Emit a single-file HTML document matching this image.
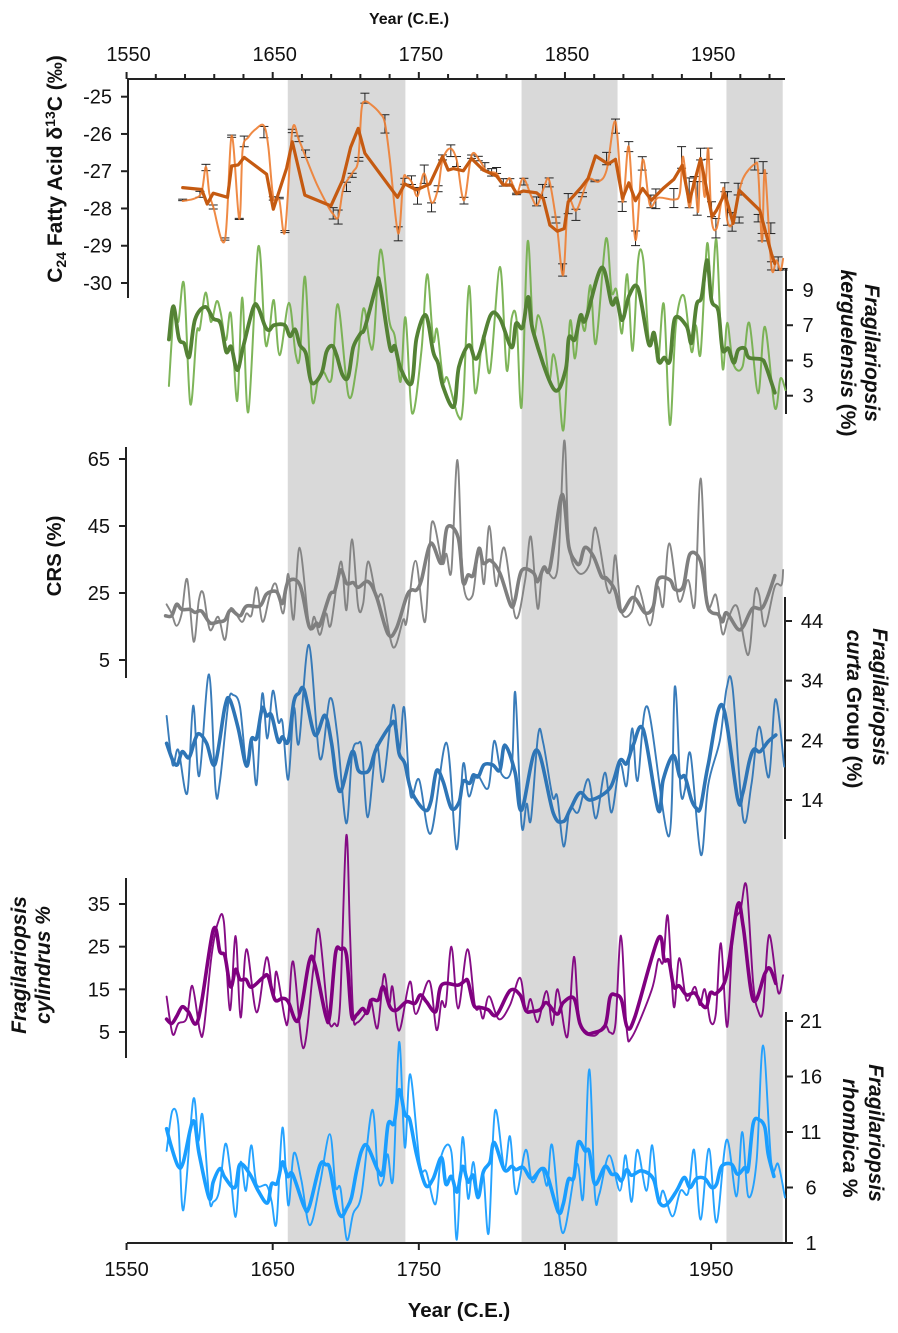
<!DOCTYPE html>
<html lang="en">
<head>
<meta charset="utf-8">
<title>Proxy records by year (C.E.)</title>
<style>
html,body{margin:0;padding:0;background:#fff;}
svg{display:block;}
text{font-family:"Liberation Sans",sans-serif;fill:#111;}
.tick{font-size:20px;}
.title{font-size:20.5px;font-weight:bold;}
.ital{font-size:21px;font-weight:bold;font-style:italic;}
#series{filter:blur(0.35px);}
</style>
</head>
<body>
<svg id="chart" xmlns="http://www.w3.org/2000/svg" width="898" height="1333" viewBox="0 0 898 1333">
  <g id="bands"></g>
  <g id="axes"></g>
  <g id="series"></g>
  <text class="title" style="font-size:16px" x="409" y="24" text-anchor="middle">Year (C.E.)</text>
  <text class="title" x="459" y="1317" text-anchor="middle">Year (C.E.)</text>
  <text class="title" style="font-size:21px" transform="translate(62 169) rotate(-90)" text-anchor="middle">C<tspan font-size="14" dy="4">24</tspan><tspan dy="-4"> Fatty Acid δ</tspan><tspan font-size="14" dy="-7">13</tspan><tspan dy="7">C (‰)</tspan></text>
  <text class="title" transform="translate(61 556) rotate(-90)" text-anchor="middle">CRS  (%)</text>
  <text class="ital" transform="translate(26 965) rotate(-90)" text-anchor="middle">Fragilariopsis</text>
  <text class="ital" transform="translate(50 965) rotate(-90)" text-anchor="middle">cylindrus %</text>
  <text class="ital" transform="translate(865 353) rotate(90)" text-anchor="middle">Fragilariopsis</text>
  <text class="ital" transform="translate(841 353) rotate(90)" text-anchor="middle">kerguelensis<tspan font-style="normal"> (%)</tspan></text>
  <text class="ital" transform="translate(873 697) rotate(90)" text-anchor="middle">Fragilariopsis</text>
  <text class="ital" transform="translate(847 709) rotate(90)" text-anchor="middle">curta<tspan font-style="normal"> Group  (%)</tspan></text>
  <text class="ital" transform="translate(869 1133) rotate(90)" text-anchor="middle">Fragilariopsis</text>
  <text class="ital" transform="translate(843 1138) rotate(90)" text-anchor="middle">rhombica<tspan font-style="normal"> %</tspan></text>
</svg>
<script>
const bandStarts = [1660.3, 1820.3, 1960.5];
const bandEnds = [1740.8, 1886, 1999];

const topYearTicks = [1550, 1570, 1590, 1610, 1630, 1650, 1670, 1690, 1710, 1730, 1750, 1770, 1790, 1810, 1830, 1850, 1870, 1890, 1910, 1930, 1950, 1970, 1990];
const yearLabels = [1550, 1650, 1750, 1850, 1950];
const c24Ticks = [-25, -26, -27, -28, -29, -30];
const kergTicks = [9, 7, 5, 3];
const crsTicks = [65, 45, 25, 5];
const curtaTicks = [44, 34, 24, 14];
const cylTicks = [35, 25, 15, 5];
const rhomTicks = [21, 16, 11, 6, 1];

const c24ThinYears = [1588.4,1596.8,1601.4,1604.3,1606.6,1609.3,1617.3,1621.9,1627.1,1629.4,1633.3,1639,1644,1647,1650.4,1654.5,1658.4,1663.4,1667.9,1672.5,1680,1688,1691.4,1694.8,1697.8,1700.5,1705.1,1708.5,1710.8,1713.1,1717.6,1723.3,1726.8,1730.2,1735.9,1739.3,1741.6,1745,1749.1,1753.7,1758.7,1763.2,1766.2,1771.3,1775.9,1780.9,1786.1,1791.8,1796.4,1803.2,1807.8,1812.3,1816.9,1821.5,1827.2,1831,1835.8,1839.2,1844.3,1848.8,1852.2,1857.9,1865.9,1872.8,1878.5,1884.6,1889.4,1893.7,1898.3,1903.1,1908.1,1913.8,1924.5,1928.6,1930.9,1935,1938.4,1941.2,1942.8,1945.7,1948,1950.3,1953.7,1957.1,1958.7,1961,1964,1967.4,1971.9,1979.9,1982.2,1984.9,1986.8,1991.3,1994.7,1997.5,1999.3];
const c24ThinValues = [-27.8,-27.73,-27.55,-26.88,-27.59,-27.95,-28.85,-26.05,-28.28,-26.43,-26.09,-25.85,-25.78,-26.34,-27.71,-27.77,-28.62,-25.91,-26.16,-26.61,-27.33,-27.95,-28.15,-28.24,-27.55,-27.28,-27.01,-26.7,-25.35,-25.13,-25.22,-25.44,-25.71,-26.7,-28.67,-27.24,-27.16,-27.28,-27.67,-27.06,-27.84,-27.46,-26.7,-26.39,-26.7,-27.78,-26.57,-26.72,-27,-27.06,-27.37,-27.19,-27.6,-27.19,-27.69,-27.91,-27.42,-27.24,-28.4,-29.79,-27.82,-28.05,-27.24,-27.28,-26.97,-25.67,-27.82,-26.34,-28.85,-26.7,-27.91,-27.71,-27.76,-27.6,-26.61,-27.96,-27.24,-28.09,-26.66,-27.69,-26.39,-28.27,-28.54,-27.78,-27.46,-28.31,-28.45,-27.87,-27.19,-26.81,-27,-28.9,-26.97,-29.57,-29.39,-29.66,-29.35];
const c24ThickYears = [1588.4,1601.4,1605.2,1609.3,1619.1,1621.9,1626.4,1630.5,1645.8,1650.4,1659.5,1663.4,1672,1689.8,1697.8,1703.3,1708.5,1713.1,1735.4,1740.4,1748.4,1757.5,1766.2,1770.1,1773.6,1780.4,1786.1,1794.1,1803.2,1807.8,1813.5,1816.9,1821.5,1830.6,1835.1,1839.7,1844.7,1849.5,1852.2,1861.4,1865.9,1870.9,1879.6,1884.6,1889.4,1893.7,1898.3,1903.1,1909.2,1917.2,1924.5,1930.2,1935,1942.8,1950.7,1953.7,1959.4,1965.1,1969.2,1983.3,1991.3,1993.6];
const c24ThickValues = [-27.44,-27.49,-27.88,-27.59,-27.7,-26.86,-26.83,-26.63,-27.08,-28.02,-26.92,-26.21,-27.64,-27.93,-27.24,-26.36,-25.85,-26.52,-27.7,-27.34,-27.5,-27.34,-26.61,-26.97,-26.93,-26.99,-26.66,-26.97,-27.13,-27.37,-27.37,-27.6,-27.53,-27.58,-27.73,-28.45,-28.61,-28.54,-27.82,-27.42,-27.19,-26.59,-26.81,-26.68,-27.73,-27.31,-27.79,-27.46,-27.78,-27.46,-27.22,-26.84,-27.82,-26.66,-28.22,-28.05,-27.6,-28.4,-27.51,-28.05,-29.21,-29.48];
const c24ErrYears = [1588.4,1600.2,1604.3,1609.3,1617.3,1621.9,1627.1,1630.5,1644,1650.4,1654.5,1658.4,1663.4,1667.9,1672.5,1691.4,1694.8,1700.5,1704.4,1709,1713.1,1726.8,1735.9,1740.4,1745,1749.1,1753.7,1758.7,1763.2,1766.2,1771.9,1775.8,1780.9,1786.1,1790.7,1795.2,1799.8,1803.2,1807.8,1812.3,1816.9,1821.9,1830.6,1834.7,1839.2,1843.8,1848.4,1852.2,1857.5,1862,1870.5,1878.5,1884.6,1889.2,1893.7,1898.3,1902.9,1908.8,1912.2,1924.5,1929.8,1935,1938.4,1940.5,1942.8,1948,1950.3,1953.3,1959.4,1961.2,1964.4,1968.5,1969.2,1979.9,1982.2,1985.6,1984.9,1990.9,1991.3,1995.9,1999.3];
const c24ErrCentres = [-27.77,-27.62,-26.9,-27.96,-28.82,-26.06,-28.28,-26.2,-25.95,-27.73,-27.72,-28.62,-25.92,-26.13,-26.53,-28.13,-28.23,-27.42,-27.11,-26.68,-25.04,-25.73,-28.68,-27.27,-27.24,-27.66,-27.08,-27.97,-27.47,-26.63,-26.45,-26.74,-27.79,-26.61,-26.66,-26.87,-27.03,-26.98,-27.3,-27.3,-27.61,-27.28,-27.81,-27.53,-27.3,-28.31,-29.65,-27.87,-28.17,-27.63,-27.26,-26.66,-25.79,-27.95,-26.34,-28.8,-26.79,-27.81,-27.74,-27.72,-26.63,-27.58,-27.21,-27.73,-26.54,-26.53,-28.02,-28.53,-27.43,-28,-28.36,-27.48,-28.31,-26.81,-28.26,-26.9,-28.77,-28.53,-29.54,-29.48,-29.63];
const c24ErrHalves = [0.02,0.08,0.085,0.054,0.03,0.03,0.015,0.143,0.152,0.045,0.02,0.027,0.045,0.076,0.1,0.152,0.188,0.125,0.054,0.05,0.134,0.246,0.188,0.08,0.116,0.224,0.246,0.12,0.08,0.067,0.157,0.134,0.09,0.045,0.06,0.1,0.1,0.08,0.1,0.1,0.02,0.09,0.12,0.175,0.12,0.08,0.165,0.27,0.15,0.054,0.022,0.166,0.19,0.13,0.134,0.197,0.18,0.17,0.264,0.255,0.29,0.4,0.067,0.45,0.157,0.15,0.2,0.26,0.12,0.45,0.25,0.157,0.08,0.157,0.1,0.157,0.1,0.143,0.11,0.18,0.02];

const kergThinYears = [1579,1581,1582.4,1585.4,1589.3,1593.6,1597.9,1600.2,1604.1,1607.7,1611.6,1614.3,1618,1621.4,1625.7,1629.2,1633.3,1640.1,1644.7,1647.4,1650.8,1654.7,1661.1,1665.6,1668.6,1672.2,1676.8,1681.1,1684.6,1690.3,1694.6,1701.9,1707.4,1712.1,1716.5,1719.2,1723.8,1729.7,1733.6,1737.5,1740.9,1745.4,1751.8,1755.7,1759.8,1762.5,1766.6,1769.6,1776.9,1780.3,1784.4,1788.5,1794.1,1798.7,1805.5,1810.1,1813.5,1816.9,1820.3,1824.4,1828.3,1831.7,1835.6,1839.3,1842,1845.4,1849.1,1853.4,1856.8,1860.2,1863.7,1867.5,1871.2,1878,1881.9,1885.3,1889,1892.6,1896.3,1900.1,1903.6,1907.4,1910.9,1913.8,1917.7,1921.8,1925.9,1931.4,1936.6,1939.6,1942.8,1947.3,1950.3,1953.7,1957.8,1961,1965.1,1971.5,1976.1,1982.2,1986.8,1993.6,1997.5,2000.9];
const kergThinValues = [3.55,6.34,8.04,7.19,9.33,2.53,6.53,6.81,8.85,7.19,8.36,7.76,6.15,7.63,2.7,8.57,2.07,11.44,6.19,6.44,8.42,5.3,8.27,5.4,5.25,9.74,2.85,3.89,4.36,3.98,8.19,3,4.64,7.95,5.96,6.15,11.29,7.29,6.34,3.79,7.44,2,5.59,9.89,6.15,6.76,3.89,3.98,1.86,2.56,9.23,3.17,6.44,4.36,10.31,4.45,7.38,7.29,2.37,11.73,6.53,7.57,6.34,3.89,5.36,3.89,1.09,7.19,5.11,7.48,6.72,9.27,5.96,11.9,8.89,8.99,6.53,9.89,5.55,10.72,10.69,6.15,6.53,4.93,8.19,1.34,7,8.67,5.49,7,5.4,11.63,8.42,11.82,4.6,7.14,4.83,4.64,7.14,3.13,6.91,2.32,3.98,3.32];
const kergThickYears = [1579,1582,1585.8,1589.5,1592.9,1596.8,1603.8,1609.3,1614.3,1618.2,1621.6,1625.7,1629.8,1636.7,1640.1,1644.7,1647.6,1650.8,1658.3,1661.8,1665.4,1668.6,1672.7,1676.6,1683.4,1686.8,1690.7,1693.7,1697.8,1701.7,1705.1,1710.1,1713.1,1721,1723.3,1730.2,1733.6,1737.5,1745,1748.4,1754.8,1759.8,1763.2,1766.6,1773.9,1777.4,1784.2,1788.3,1791.8,1799.1,1805.5,1813.5,1816.5,1821,1824.9,1828.3,1842.5,1850.4,1852.7,1856.8,1860.7,1864.1,1875.1,1881.9,1885.3,1889.2,1894,1900.1,1907.4,1910.9,1914.3,1917.9,1921.8,1925.2,1933.2,1936.6,1940,1943.5,1947.3,1950.3,1954.9,1957.8,1961.7,1965.6,1968.5,1973.1,1975.8,1984.5,1987.2,1993.6];
const kergThickValues = [6.19,8.08,6.25,5.96,5.21,7.32,8.04,7.38,7.1,5.49,5.78,4.45,5.78,8,8,6.95,6.72,7,7,6.38,6.76,5.87,5.4,3.74,4.26,5.49,5.83,5.3,4.17,4.07,5.74,6.53,6.87,9.27,9.33,5.74,5.81,4.55,3.7,6.25,7.57,5.49,4.83,3.51,2.37,4.64,5.87,5.11,5.49,7.57,7.38,5.74,7.1,6.87,8.61,6.63,3.36,4.45,6.3,6.19,7.57,7.32,10.27,8.23,8.51,7.29,8.7,9.08,5.93,6.57,4.93,5.17,4.98,7.38,6.95,6,8.14,8.61,10.69,8.42,7.82,5.62,5.68,4.87,5.59,5.68,5.17,5.06,4.74,3.17];

const crsThinYears = [1577.4,1580.8,1584.2,1587.7,1591.5,1595.9,1599.5,1602.5,1607,1612.7,1617.3,1621.2,1628.7,1632.1,1635.5,1639,1643.1,1648.1,1652.2,1657.2,1660.6,1664.3,1668.4,1675,1678.4,1682.3,1686.4,1689.8,1696.6,1700.5,1704.2,1708.5,1711.9,1715.3,1721,1725.1,1732.4,1739.3,1741.6,1747.7,1754.3,1758.9,1766,1768.9,1772.3,1776.4,1780.3,1786.7,1791.2,1794.6,1798.2,1802.8,1808.5,1816.2,1822.6,1826.7,1831.3,1835.2,1844.7,1849.5,1852.7,1859.1,1866.6,1871,1878.5,1881.9,1884.6,1888.7,1895.6,1900.1,1908.1,1913.4,1917.2,1921.3,1928,1934.3,1938.9,1942.8,1947.3,1953.3,1957.8,1961.7,1967.9,1975.4,1979.9,1982.9,1986.8,1993.6,1998.2,1999.3];
const crsThinValues = [21.6,18.9,15.2,18.9,29.1,10.5,22.9,24.9,14,17.9,11,20.4,16.4,18.9,18.4,26.7,16.4,24.4,27.7,18.9,30.7,17.1,38.5,15,17.9,12.5,18.9,15.5,34.4,19.9,41,20.9,21.9,34.4,23.9,23.9,8.8,17,16.4,34.6,16.4,46,33.9,36.7,31.7,64.7,28.4,24.2,38.6,27.7,45,27.1,38.5,17.6,28.4,41.8,20.4,32.4,31.7,70.5,39.8,31.1,33.4,44.5,26.9,26.4,36.2,19.4,19.4,27.1,15.3,26.9,21.1,39.8,22.6,28.9,21.7,59.2,22.4,24.4,12.8,17.4,20.9,6.5,24.9,24.4,15,26.9,27.4,31.9];
const crsThickYears = [1576.7,1580.8,1584.2,1587.7,1593.4,1596.8,1601.3,1607,1612.7,1617.3,1621.2,1627.6,1632.1,1641.2,1645.8,1652.6,1656.7,1660.6,1668.6,1675,1680,1682.3,1689.1,1692.5,1696.6,1700.5,1705.1,1708.5,1715.3,1721,1729,1734.7,1741.6,1745,1748.4,1751.8,1758.2,1765.5,1769.4,1776.9,1780.3,1783.7,1787.3,1791.2,1794.1,1799.1,1805.5,1812.8,1815.8,1820.3,1828.3,1831.3,1835.6,1839.7,1846.6,1849.5,1852.7,1857.5,1860.2,1863.7,1869.4,1875.1,1878.5,1884.2,1888.7,1896.7,1904.7,1910.4,1913.8,1921.8,1925.2,1930.9,1935.5,1942.8,1947.3,1950.3,1954.9,1957.8,1960.6,1968.1,1972,1978.3,1985.6,1993.6];
const crsThickValues = [18.2,18.2,21.6,20.1,20.1,19.2,19.6,16.1,16.4,16.9,19.9,18.2,21.1,21.1,24.7,25.4,21.9,28.4,27.4,15,16,15.5,24.4,25.7,31.9,27.9,28.1,26.7,28.4,23.9,12.7,14.5,23.9,25.9,25.9,28.9,39.8,33.9,44.6,41.6,28.2,30.4,30.4,38.3,33.9,34.7,30.9,21.4,22.9,31.7,31.1,28.4,32.7,32.4,52.3,52.3,38.8,34.2,33.9,38.6,36,29.9,29.4,25.9,19.4,23.7,19.1,20.9,29.1,28.9,26.1,26.9,36.6,34.4,21.9,19.2,18.6,16.4,19.1,14.3,15,20.4,20.9,30.2];

const curtaThinYears = [1577.4,1581.5,1585.4,1591.5,1595.6,1599.7,1606.4,1610.9,1613.9,1619.6,1623,1627.6,1632.1,1635.5,1639,1642.8,1646.3,1650.1,1653.8,1656.7,1660.6,1664.5,1667.9,1674.8,1682.3,1689.1,1694.1,1700.3,1704.4,1708.5,1711.2,1715.1,1721,1725.6,1732.4,1736.5,1740,1744.3,1750.2,1758.2,1768.9,1775.8,1780.3,1784.2,1789.6,1797.5,1801.6,1806.7,1813.5,1816,1820.3,1823.8,1826.7,1831.7,1835.2,1841.5,1844.7,1849.1,1853.4,1859.1,1865.9,1871.2,1877.3,1881.9,1887.6,1892.2,1896,1899.7,1906.5,1921.1,1925.2,1929.1,1932.1,1935.9,1943,1948,1956,1960.6,1964.7,1972,1977.7,1982.9,1989.5,1994.1,2000];
const curtaThinValues = [28.1,19.9,22.4,15.1,29.8,18,35.05,15.7,17.1,30.2,31.6,29.6,19.7,24.3,16.6,31.8,24.3,32.3,27.1,27,17.4,29.4,23.5,40,20.9,31,25.2,10.1,21.8,23.5,22.4,11.1,23.2,17.1,29.9,22.1,29.5,14.8,17.4,8.4,23.6,5.74,20,14.6,18.2,16,23.9,18.3,19.3,32,9.8,13.4,10.7,25,23.5,14.6,14.6,6.2,12.6,12,17.5,10.9,18.6,11.9,20.1,16.4,26,17.2,29.6,7.9,33,15.7,15.7,21.7,4.8,16.5,24,32.7,32.8,10.8,16.8,26.3,17.8,30.9,19.6];
const curtaThickYears = [1577.4,1581.5,1584.7,1588.1,1592.7,1596.8,1599.7,1604.8,1610.5,1617.3,1620.7,1626.4,1632.1,1635.5,1639,1642.8,1645.8,1649.2,1653.8,1656.7,1660.6,1664.5,1667.9,1671.6,1678.9,1685.7,1690.3,1693.7,1697.1,1704.4,1708.5,1713.1,1716.5,1721,1730.2,1733.6,1736.5,1740.4,1745,1754.1,1758.2,1762.1,1766.6,1772.3,1777.6,1780.3,1784.9,1787.3,1790.7,1794.6,1800.5,1805.5,1808.9,1815.8,1820.3,1830.6,1842,1848.8,1853.4,1860.2,1867.5,1880.8,1887.6,1892.2,1896.7,1903.6,1913.8,1917.2,1924.1,1928.6,1932.1,1936.6,1940,1942.8,1948,1957.6,1968.1,1971.5,1976.1,1979.3,1983.4,1989.1,1994.3];
const curtaThickValues = [23.5,20.7,19.9,22.1,21.1,24.1,25.1,23.5,20,29.6,30.8,26,19.7,24.2,24.4,29.4,28.1,28.2,23.8,24.6,23.8,30.5,31.9,32.4,24.9,28.2,23.5,17.3,15.7,22.1,19,18.6,19.3,22.7,26.4,26.8,21.8,20.1,15.4,12.3,13.7,18.9,17.1,12.6,13.7,17.1,16.8,18.2,17.9,19.9,19.9,19,23.2,18.7,12.3,22.4,11.8,10.4,12.3,15.2,14,16,20.6,20.1,23.2,25.8,12.3,17.4,21.5,17.9,17.9,14,12.6,12.8,19.9,29.9,14.3,15,20.4,22.5,22.1,23.8,24.9];

const cylThinYears = [1577.4,1581.5,1585.4,1591.1,1595,1600.2,1602.9,1608.2,1612.7,1616.6,1620.7,1624.6,1628,1632.1,1639,1645.8,1650.4,1652.6,1658.3,1660.6,1664,1670.9,1677.7,1681.6,1688,1692.1,1696,1700.3,1702.8,1705.1,1707.8,1714.2,1717.2,1721.7,1726.1,1729.7,1732,1736.5,1743.8,1748,1757.1,1762.1,1765.5,1768.5,1772.3,1776.9,1783.3,1788.3,1791.7,1794.1,1798,1804.8,1812.4,1819.2,1823.3,1826.5,1831.3,1837.4,1841.5,1845,1851.6,1856.1,1860.2,1869.8,1877.3,1880.8,1884.6,1888.3,1892.2,1895.8,1909.3,1913.8,1917.2,1920.4,1924.5,1928.2,1933.2,1938.9,1942.3,1945.7,1949.6,1953.3,1956.7,1961,1965.1,1970.1,1974.2,1978.8,1982.2,1985.6,1989.7,1995.9,1999.3];
const cylThinValues = [13.3,4.5,7,8.2,15.8,5.2,5.9,23,30.8,30.8,10.1,27.5,8.4,24.4,9.6,22.5,13.3,19.1,8.2,8,21.5,1.2,19.5,28.9,8.6,7,10.9,50.9,28.9,9,7.2,9.8,12.5,5.9,18.5,11.7,15.6,5.3,16.8,9.2,17,5.5,12.1,11.5,25,10.5,24.4,11.3,10.5,8.2,13.4,8,11.3,17.7,9.8,12.7,7.3,14.6,6.6,15,3.8,22.6,7,4.1,6.6,4.9,7,27.6,5.9,3.8,14.8,21.9,21.5,32.2,10.9,22.3,12.5,15.6,11.3,15,7.4,9.4,25.8,6.2,28.9,33.6,39.2,16.4,10,10.2,27.7,14.3,18.3];
const cylThickYears = [1577.4,1580.8,1584.2,1588.1,1592.2,1599.1,1609.3,1613.9,1617.3,1621.2,1624.6,1627.6,1631.7,1635.5,1643.5,1646.9,1651.5,1656.7,1660.6,1667.5,1675,1678.9,1686.4,1689.1,1693,1696.4,1700.5,1703.9,1707.4,1711.5,1714.7,1717.6,1722.2,1725.6,1730.2,1734.7,1741.6,1747.3,1751.1,1755.2,1761.6,1765.5,1776.9,1781.5,1783.7,1787.6,1791.8,1797.5,1803.2,1812.4,1819.2,1823.3,1827.2,1832.9,1837.4,1844.7,1848.8,1856.1,1860.2,1864.3,1868.2,1877.3,1880.8,1884.6,1888.7,1892.6,1897.9,1913.8,1917.9,1921.1,1924.5,1928.2,1933.2,1938.9,1943.5,1946.9,1949.6,1953.7,1960.6,1968.1,1972,1978.8,1986.8,1990.2,1994.3];
const cylThickValues = [8,7,8.6,10.9,9.8,8,28.9,23.8,22.8,15.6,19.7,17.3,17.3,15.5,17.8,18,12.6,12.9,12.1,7.8,21.5,20.7,8.7,9,23.4,24.4,23,9,9,10.5,9.4,12.5,12.5,15.6,10.9,10.1,12.1,11.7,13.7,12.1,9.8,16,16,17,16.8,11.3,10.8,10.2,9,14.7,13.7,10,9.8,10.2,11.9,9.2,11.9,12.9,7,4.9,4.7,6.4,13.1,13.7,12.5,6.1,8.6,26.9,21.9,21.6,15.6,15.8,13.7,14.1,11.5,10.9,14.2,14.1,18.3,34.7,29.7,12.5,18.7,19.9,16.4];

const rhomThinYears = [1577.4,1581.3,1585.4,1588.8,1595.6,1599.1,1602,1606.6,1609.3,1613.4,1617.5,1620.7,1624.6,1628,1631.7,1635.3,1639,1645.8,1649.2,1652.6,1656.7,1660.6,1664.5,1669.7,1675.4,1682.3,1689.1,1693,1696.4,1700.7,1705.1,1710.8,1718.1,1722.2,1725.6,1728.6,1732.4,1736.5,1740.4,1744.1,1750.7,1755.2,1761.4,1765.5,1772.3,1776,1779.9,1783.7,1787.2,1790.7,1794.1,1797.8,1802.1,1808.5,1812.4,1816.5,1823.1,1827.6,1834,1837.9,1841.3,1848.4,1858,1862.5,1866.6,1870.5,1873.5,1880.3,1887.6,1891.5,1895.6,1899.5,1905.8,1909.7,1913.8,1917.2,1923.6,1929.1,1934.3,1938.4,1942.8,1948.5,1953.7,1960.6,1967.4,1971.3,1975.4,1981.1,1985.6,1991.3,1995.9,2000.5];
const rhomThinValues = [9.3,12.9,11.7,3.95,13.9,10.2,12.5,5,4.7,5.7,9.9,7.8,3.35,8.3,5.7,9.8,6.3,6.2,4.8,2.8,11.4,4.4,9.1,6.6,2.6,6.3,10.8,6.1,5.9,1.3,3.65,5.4,13,6.8,6.6,9,6.8,19.1,9.6,16.2,8.1,7.4,4.5,8.9,9.2,1.3,10.5,5,8.3,5.1,7.2,1.9,12.9,7.7,10.6,5.4,9.4,6.5,7.7,6.2,9.8,1.9,8.1,5.1,16.65,5.4,5.4,8.9,5.7,8.9,4.7,9.4,5.7,9.8,4.7,5.7,3.4,5.7,5.5,9.4,3.1,9.5,2.85,10.3,5.2,11,5.2,8.3,18.8,8.1,8.1,5.1];
const rhomThickYears = [1577.4,1580.8,1585.4,1588.8,1595.6,1599.7,1606.6,1609.3,1613.9,1617.3,1624.1,1627.6,1634.4,1640.1,1646.3,1649.2,1653.1,1656.7,1660.2,1663.6,1671.6,1675,1682.3,1686.2,1689.1,1693.7,1697.1,1700.5,1703.9,1707.4,1710.8,1714.7,1722.2,1725.6,1729,1733.1,1736.5,1740.4,1743.8,1748.4,1754.6,1759.8,1765.5,1768.5,1772.3,1776.2,1779.9,1783.7,1787.2,1790.6,1794.1,1798.7,1801.6,1808.5,1813.5,1816.5,1821.5,1827.2,1834,1837.9,1845.4,1848.8,1852.3,1856.1,1859.1,1863.7,1866.6,1870.5,1877.3,1881.9,1885.3,1888.7,1892.2,1895.6,1902.4,1910.4,1914.5,1919.5,1926.4,1931.6,1935.5,1940,1945.7,1950.3,1953.7,1957.1,1964,1968.1,1973.1,1975.4,1978.8,1982.9,1986.8,1989.1,1993];
const rhomThickValues = [11.3,9.6,7.9,8.3,12,9,5,6.5,7.7,6.9,6,8.1,7.2,5.7,4.6,6.3,6.4,8.3,7,7.2,4.25,4.25,8,8.05,7.7,4.4,3.4,4.1,5.1,7.5,9.3,9.75,7.5,7.5,11.7,11.8,14.8,12.6,12.1,9,6.2,6.8,8.7,6.3,7,5.6,7.9,6.5,7.1,5.1,7.4,8.3,10.05,7.6,7.9,7.6,7.8,6.8,7.7,7.1,3.8,4.5,6.7,6.9,10.05,9.3,9.25,6.3,7.9,7.2,7.2,6.6,7.6,7.1,7.5,6.8,4.7,4.45,5.7,6.9,6,6.8,6.8,6,6.3,7.9,8.1,7.2,7.8,7.65,11.75,12.1,11.4,9,7];

const NS = 'http://www.w3.org/2000/svg';
const xScale = yr => 272.7 + (yr - 1650) * 1.4613;
const linear = (v0, p0, v1, p1) => v => p0 + (v - v0) * (p1 - p0) / (v1 - v0);
const yC24 = linear(-25, 96.7, -30, 283);
const yKerg = linear(9, 290, 3, 395.7);
const yCrs = linear(65, 459, 5, 660);
const yCurta = linear(44, 621, 14, 800);
const yCyl = linear(35, 904, 5, 1032);
const yRhom = linear(21, 1021, 1, 1243);

const axesG = document.getElementById('axes');
const seriesG = document.getElementById('series');
const bandsG = document.getElementById('bands');
const AXIS = '#222';

function addLine(parent, x1, y1, x2, y2, name, width) {
  const el = document.createElementNS(NS, 'line');
  el.setAttribute('x1', x1);
  el.setAttribute('y1', y1);
  el.setAttribute('x2', x2);
  el.setAttribute('y2', y2);
  el.setAttribute('stroke', AXIS);
  el.setAttribute('stroke-width', width);
  
  
  parent.appendChild(el);
}

function addText(x, y, str, anchor, name) {
  const el = document.createElementNS(NS, 'text');
  el.setAttribute('x', x);
  el.setAttribute('y', y);
  el.setAttribute('class', 'tick');
  el.setAttribute('text-anchor', anchor);
  
  
  el.textContent = str;
  axesG.appendChild(el);
}

function linePath(years, values, yFn, smooth) {
  const pts = years.map((yr, i) => [xScale(yr), yFn(values[i])]);
  let d = 'M' + pts[0][0].toFixed(1) + ' ' + pts[0][1].toFixed(1);
  for (let i = 0; i < pts.length - 1; i++) {
    if (!smooth) {
      d += 'L' + pts[i + 1][0].toFixed(1) + ' ' + pts[i + 1][1].toFixed(1);
      continue;
    }
    const p0 = pts[Math.max(0, i - 1)];
    const p1 = pts[i];
    const p2 = pts[i + 1];
    const p3 = pts[Math.min(pts.length - 1, i + 2)];
    const c1x = p1[0] + (p2[0] - p0[0]) / 6;
    const c1y = p1[1] + (p2[1] - p0[1]) / 6;
    const c2x = p2[0] - (p3[0] - p1[0]) / 6;
    const c2y = p2[1] - (p3[1] - p1[1]) / 6;
    d += 'C' + c1x.toFixed(1) + ' ' + c1y.toFixed(1) + ' ' + c2x.toFixed(1) + ' ' + c2y.toFixed(1) + ' ' + p2[0].toFixed(1) + ' ' + p2[1].toFixed(1);
  }
  return d;
}

function addSeries(years, values, yFn, color, width, smooth, name, opacity) {
  const el = document.createElementNS(NS, 'path');
  el.setAttribute('d', linePath(years, values, yFn, smooth));
  el.setAttribute('fill', 'none');
  el.setAttribute('stroke', color);
  el.setAttribute('stroke-width', width);
  el.setAttribute('stroke-linejoin', 'round');
  el.setAttribute('stroke-linecap', 'round');
  el.setAttribute('stroke-opacity', opacity);
  
  
  seriesG.appendChild(el);
}

bandStarts.forEach((start, i) => {
  const el = document.createElementNS(NS, 'rect');
  el.setAttribute('x', xScale(start));
  el.setAttribute('y', 79);
  el.setAttribute('width', xScale(bandEnds[i]) - xScale(start));
  el.setAttribute('height', 1164);
  el.setAttribute('fill', '#d9d9d9');
  
  
  bandsG.appendChild(el);
});

addLine(axesG, 127, 79, 785, 79, 'top-x-axis-line', 2);
addLine(axesG, 127, 1243, 786, 1243, 'bottom-x-axis-line', 2);
topYearTicks.forEach(yr => {
  const major = (yr - 1550) % 100 === 0;
  addLine(axesG, xScale(yr), 79, xScale(yr), major ? 72 : 74, 'top-x-tick', 2);
});
yearLabels.forEach(yr => {
  addText(xScale(yr) + 2, 61, String(yr), 'middle', 'top-x-tick-label');
  addLine(axesG, xScale(yr), 1243, xScale(yr), 1250, 'bottom-x-tick', 2);
  addText(xScale(yr), 1276, String(yr), 'middle', 'bottom-x-tick-label');
});

function addAxis(x, top, bottom, ticks, yFn, side, labelX, anchor, name) {
  addLine(axesG, x, top, x, bottom, name + '-axis-line', 2);
  ticks.forEach(t => {
    addLine(axesG, x, yFn(t), x + (side === 'left' ? -7 : 7), yFn(t), name + '-tick', 2);
    addText(labelX, yFn(t) + 7, String(t), anchor, name + '-tick-label');
  });
}

addAxis(128, 79, 298, c24Ticks, yC24, 'left', 112, 'end', 'c24');
addAxis(786, 268, 414, kergTicks, yKerg, 'right', 808, 'middle', 'kerguelensis');
addAxis(126, 447, 678, crsTicks, yCrs, 'left', 110, 'end', 'crs');
addAxis(785, 597, 839, curtaTicks, yCurta, 'right', 812, 'middle', 'curta');
addAxis(126, 878, 1058, cylTicks, yCyl, 'left', 110, 'end', 'cylindrus');
addAxis(786, 1012, 1243, rhomTicks, yRhom, 'right', 811, 'middle', 'rhombica');

c24ErrYears.forEach((yr, i) => {
  const x = xScale(yr);
  const yTop = yC24(c24ErrCentres[i] + c24ErrHalves[i]);
  const yBot = yC24(c24ErrCentres[i] - c24ErrHalves[i]);
  addLine(seriesG, x, yTop, x, yBot, 'c24-error-bar', 1);
  addLine(seriesG, x - 4.5, yTop, x + 4.5, yTop, 'c24-error-cap-top', 1);
  addLine(seriesG, x - 4.5, yBot, x + 4.5, yBot, 'c24-error-cap-bottom', 1);
});

addSeries(c24ThinYears, c24ThinValues, yC24, '#ed7d31', 2, true, 'c24-raw-line', 0.9);
addSeries(c24ThickYears, c24ThickValues, yC24, '#c55a11', 3.2, false, 'c24-smoothed-line', 1);
addSeries(kergThinYears, kergThinValues, yKerg, '#70ad47', 2, true, 'kerguelensis-raw-line', 0.9);
addSeries(kergThickYears, kergThickValues, yKerg, '#548235', 3.8, true, 'kerguelensis-smoothed-line', 1);
addSeries(crsThinYears, crsThinValues, yCrs, '#7f7f7f', 1.9, true, 'crs-raw-line', 0.95);
addSeries(crsThickYears, crsThickValues, yCrs, '#7f7f7f', 3.6, true, 'crs-smoothed-line', 1);
addSeries(curtaThinYears, curtaThinValues, yCurta, '#2e75b6', 1.9, true, 'curta-raw-line', 0.95);
addSeries(curtaThickYears, curtaThickValues, yCurta, '#2e75b6', 3.6, true, 'curta-smoothed-line', 1);
addSeries(cylThinYears, cylThinValues, yCyl, '#800080', 1.9, true, 'cylindrus-raw-line', 0.95);
addSeries(cylThickYears, cylThickValues, yCyl, '#800080', 3.6, true, 'cylindrus-smoothed-line', 1);
addSeries(rhomThinYears, rhomThinValues, yRhom, '#1a9eff', 1.9, true, 'rhombica-raw-line', 0.95);
addSeries(rhomThickYears, rhomThickValues, yRhom, '#1a9eff', 3.6, true, 'rhombica-smoothed-line', 1);
</script>
</body>
</html>
